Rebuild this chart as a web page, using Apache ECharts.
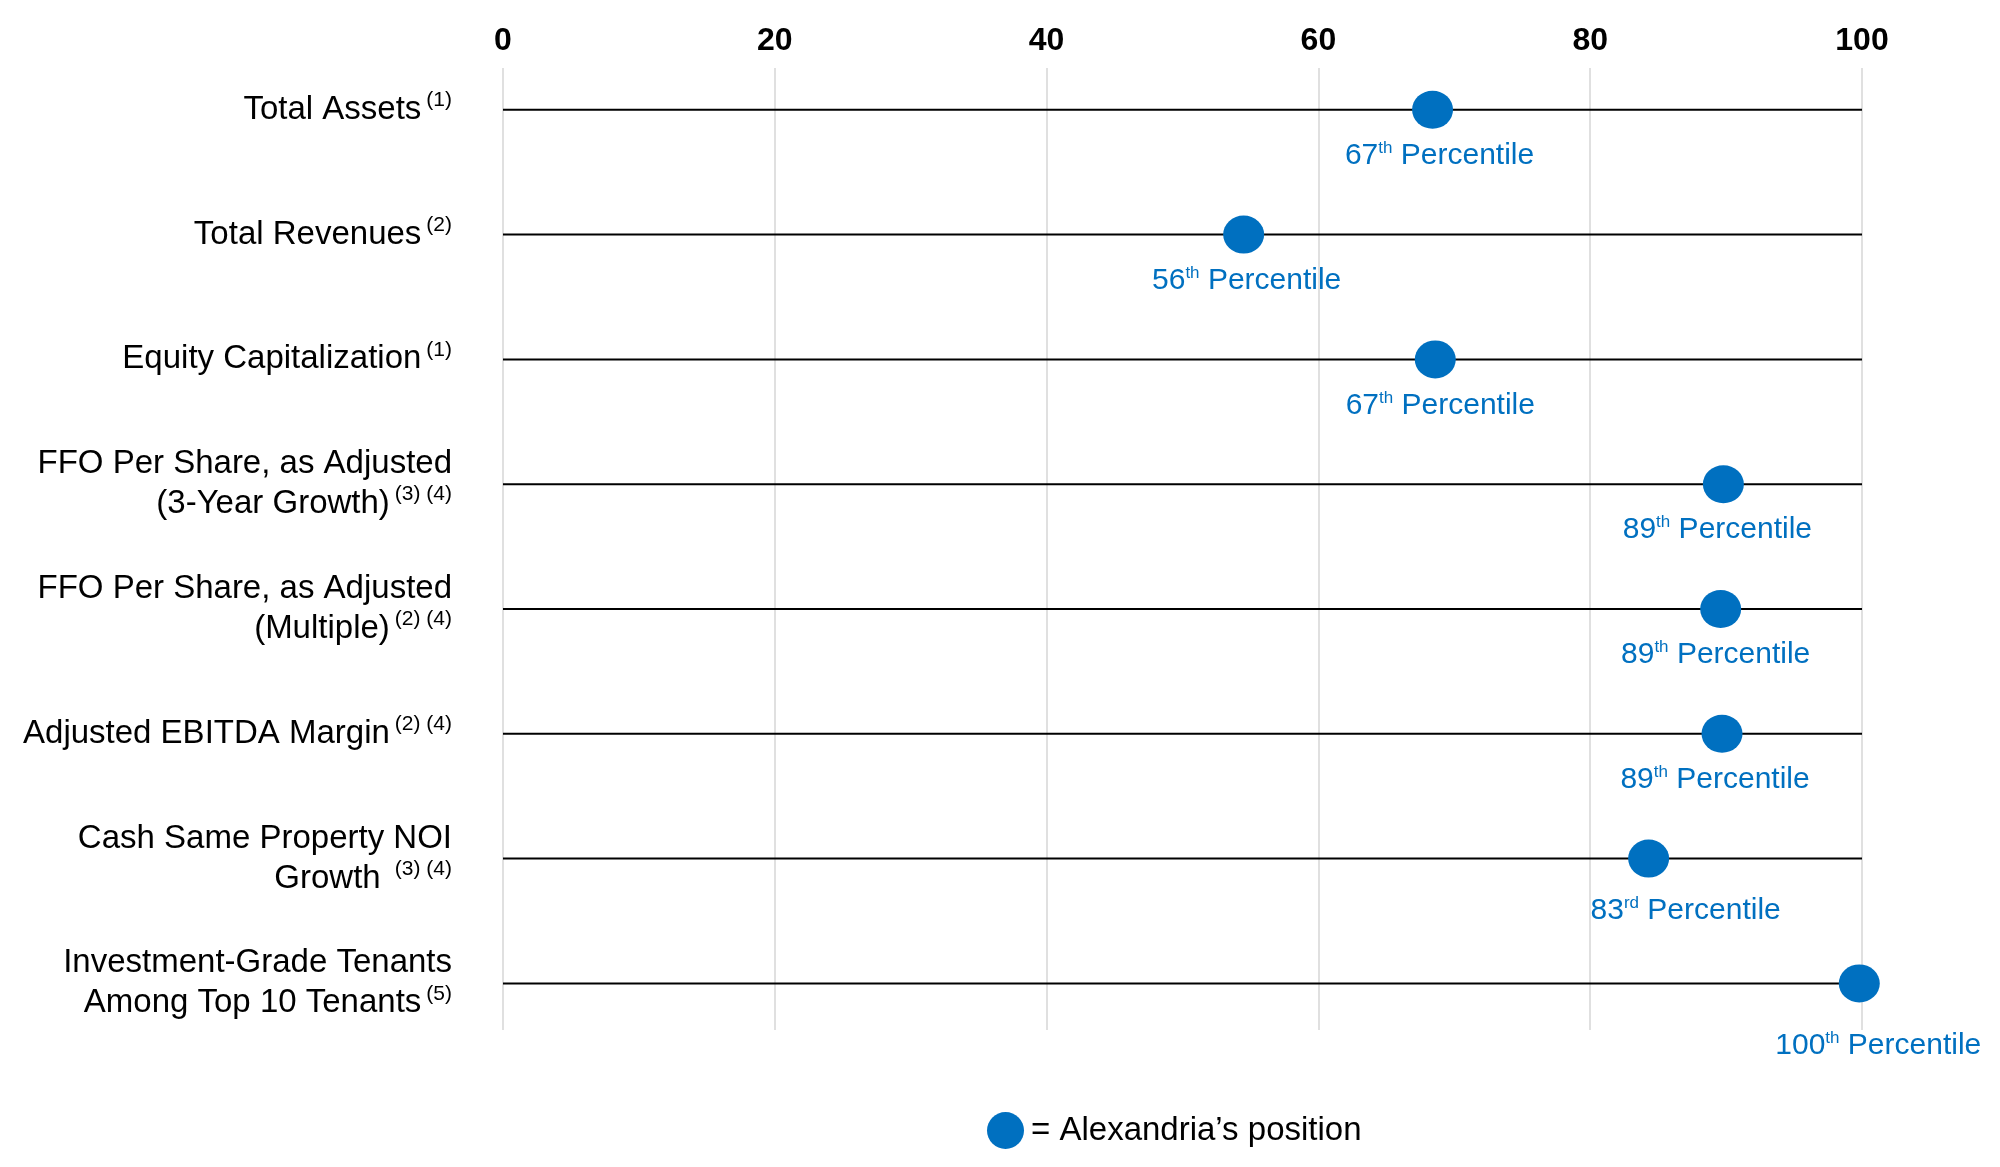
<!DOCTYPE html>
<html>
<head>
<meta charset="utf-8">
<script src="https://cdn.jsdelivr.net/npm/echarts@6/dist/echarts.min.js"></script>
<style>
  html, body { margin: 0; padding: 0; background: #ffffff; }
  #chart { width: 2000px; height: 1167px; }
</style>
</head>
<body>
<div id="chart"></div>
<script>
// ---- Data ----
const categoryLines = [
  ['Total Assets'],
  ['Total Revenues'],
  ['Equity Capitalization'],
  ['FFO Per Share, as Adjusted', '(3-Year Growth)'],
  ['FFO Per Share, as Adjusted', '(Multiple)'],
  ['Adjusted EBITDA Margin'],
  ['Cash Same Property NOI', 'Growth '],
  ['Investment-Grade Tenants', 'Among Top 10 Tenants']
];
const footnotes = ['(1)', '(2)', '(1)', '(3) (4)', '(2) (4)', '(2) (4)', '(3) (4)', '(5)'];
// dot positions as drawn on the 0-100 scale
const dotPositions = [68.4, 54.5, 68.6, 89.8, 89.6, 89.7, 84.3, 99.8];
// percentile text shown under each dot
const percentileLabels = [67, 56, 67, 89, 89, 89, 83, 100];
// each horizontal track runs the full scale
const trackEnds = [100, 100, 100, 100, 100, 100, 100, 100];
const xTickLabels = [0, 20, 40, 60, 80, 100];
const seriesName = 'Alexandria\u2019s position';

// ---- Styling ----
const FONT = "'Liberation Sans', Arial, Helvetica, sans-serif";
const BLUE = '#0070C0';
const labelNudge = [[7, 0], [3, 0], [5, 0], [-6, 0], [-5, 0], [-7, 0], [37, 6], [19, 16]];
const ellipse = 'path://M0,50A50,50,0,1,1,100,50A50,50,0,1,1,0,50Z';

const categoryNames = categoryLines.map(l => l.join(' ').trim());

function ordinal(n) {
  const t = n % 100;
  if (t >= 11 && t <= 13) return 'th';
  return ({1: 'st', 2: 'nd', 3: 'rd'})[n % 10] || 'th';
}

const xMin = xTickLabels[0];
const xMax = xTickLabels[xTickLabels.length - 1];
const xInterval = xTickLabels[1] - xTickLabels[0];

const chart = echarts.init(document.getElementById('chart'), null, { renderer: 'canvas' });

const option = {
  animation: false,
  backgroundColor: '#ffffff',
  textStyle: { fontFamily: FONT },
  grid: [
    { left: 503, right: 138, top: 68, bottom: 137 },
    { left: 503, right: 138, top: 47.4, height: 998.4 }
  ],
  xAxis: [
    {
      gridIndex: 0, type: 'value', position: 'top',
      min: xMin, max: xMax, interval: xInterval,
      axisLine: { show: false }, axisTick: { show: false },
      splitLine: { show: true, lineStyle: { color: '#d6d6d6', width: 1.5 } },
      axisLabel: { show: true, margin: 11, color: '#000', fontSize: 32, fontWeight: 'bold', fontFamily: FONT }
    },
    {
      gridIndex: 1, type: 'value', min: xMin, max: xMax,
      show: false
    }
  ],
  yAxis: [
    { gridIndex: 0, type: 'category', data: categoryNames, inverse: true, show: false },
    {
      gridIndex: 1, type: 'category', data: categoryNames, inverse: true,
      axisLine: { show: false }, axisTick: { show: false }, splitLine: { show: false },
      axisLabel: {
        margin: 51,
        align: 'right',
        formatter: function (value, index) {
          const lines = categoryLines[index];
          return lines.map((t, i) => i === lines.length - 1
            ? '{m|' + t + '}{s|' + footnotes[index] + '}'
            : '{m|' + t + '}').join('\n');
        },
        rich: {
          m: { fontSize: 33, lineHeight: 40, color: '#000', fontFamily: FONT },
          s: { fontSize: 21, lineHeight: 32, color: '#000', fontFamily: FONT, verticalAlign: 'top', padding: [0, 0, 0, 5] }
        }
      }
    }
  ],
  legend: {
    show: true,
    left: 982, top: 1107,
    itemWidth: 41, itemHeight: 37,
    data: [{ name: seriesName, icon: ellipse }],
    formatter: '= {name}',
    textStyle: { fontSize: 33, color: '#000', fontFamily: FONT },
    selectedMode: false
  },
  series: [
    {
      name: 'track', type: 'bar',
      xAxisIndex: 1, yAxisIndex: 1,
      data: trackEnds,
      barWidth: 2,
      itemStyle: { color: '#000000' },
      silent: true, z: 2
    },
    {
      name: seriesName, type: 'scatter',
      xAxisIndex: 1, yAxisIndex: 1,
      symbol: ellipse, symbolSize: [41, 38],
      itemStyle: { color: BLUE, opacity: 1 },
      z: 3,
      data: dotPositions.map((v, i) => ({
        value: [v, categoryNames[i]],
        label: { offset: labelNudge[i] }
      })),
      label: {
        show: true, position: 'bottom', distance: 11,
        formatter: function (p) {
          const n = percentileLabels[p.dataIndex];
          return '{p|' + n + '}{t|' + ordinal(n) + '}{p| Percentile}';
        },
        rich: {
          p: { fontSize: 30, lineHeight: 32, color: BLUE, fontFamily: FONT },
          t: { fontSize: 17, lineHeight: 20, color: BLUE, fontFamily: FONT, verticalAlign: 'top' }
        }
      }
    }
  ]
};

chart.setOption(option);
</script>
</body>
</html>
